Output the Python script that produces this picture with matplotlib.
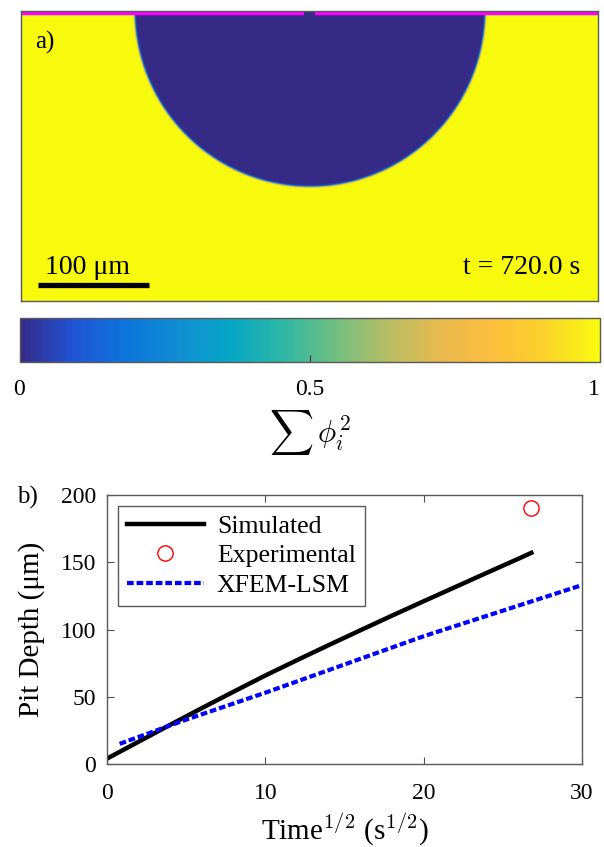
import numpy as np
import matplotlib
matplotlib.use("Agg")
import matplotlib.pyplot as plt
from matplotlib.colors import LinearSegmentedColormap

plt.rcParams['font.family'] = ['Liberation Serif', 'DejaVu Serif']
plt.rcParams['mathtext.fontset'] = 'cm'

# --- donnees panneau a) (domaine en um) ---
domain_w = 520.0
domain_h = 260.0
pit_center_x = 260.0
pit_radius = 158.0
film_segments = [(0.0, 255.0), (265.0, 520.0)]   # film passif en haut, ouverture au centre
scale_bar = (16.0, 116.0)                         # 100 um
time_label = "t = 720.0 s"

# colormap parula (quelques points)
parula_pts = [
    (0.2081, 0.1663, 0.5292), (0.1253, 0.3242, 0.8303), (0.0498, 0.4586, 0.8641),
    (0.0641, 0.5570, 0.8240), (0.0228, 0.6535, 0.7768), (0.1801, 0.7177, 0.6424),
    (0.4420, 0.7481, 0.5033), (0.7184, 0.7411, 0.3905), (0.9139, 0.7258, 0.3063),
    (0.9938, 0.7455, 0.2403), (0.9789, 0.8271, 0.1633), (0.9763, 0.9831, 0.0538),
]
parula = LinearSegmentedColormap.from_list("parula", parula_pts)

# --- donnees panneau b) ---
sim_t = [0, 2, 4, 6, 8, 10, 12, 14, 16, 18, 20, 22, 24, 26, 26.8]
sim_depth = [4, 16.6, 29.2, 41.6, 53.8, 65.8, 77.2, 88.4, 99.4, 110.3, 121, 131.6, 142.2, 152.7, 157]
exp_t = [26.8]
exp_depth = [190]
xfem_t = [0.8, 5, 10, 15, 20, 25, 30]
xfem_depth = [15, 33, 53, 74, 95, 114, 133]

W, H = 604, 847
fig = plt.figure(figsize=(W / 100, H / 100), dpi=100)

def px_axes(l, t, r, b):
    return fig.add_axes([l / W, 1 - b / H, (r - l) / W, (b - t) / H])

# ---------- a) ----------
ax1 = px_axes(20.5, 11, 598, 301.5)
xs = np.linspace(0, domain_w, 1040)
ys = np.linspace(0, domain_h, 520)
X, Y = np.meshgrid(xs, ys)
dist = np.sqrt((X - pit_center_x) ** 2 + (Y - domain_h) ** 2) - pit_radius
field = 0.5 * (1 + np.tanh(dist / 0.8))
ax1.imshow(field, origin='lower', extent=[0, domain_w, 0, domain_h], cmap=parula,
           vmin=0, vmax=1, aspect='auto', interpolation='bilinear')
top_y = domain_h - 2 * domain_h / 290
for x0, x1 in film_segments:
    ax1.plot([x0, x1], [top_y, top_y], color='#ff00ff', lw=3.2, solid_capstyle='butt')
ax1.plot(scale_bar, [15, 15], color='black', lw=3.8, solid_capstyle='butt')
ax1.text(60, 19, "100 \u03bcm", ha='center', va='bottom', fontsize=20)
ax1.text(domain_w - 16, 19, time_label, ha='right', va='bottom', fontsize=20)
ax1.text(13, domain_h - 28, "a)", ha='left', va='center', fontsize=18)
ax1.set_xlim(0, domain_w)
ax1.set_ylim(0, domain_h)
ax1.set_xticks([])
ax1.set_yticks([])
for s in ax1.spines.values():
    s.set_color('0.35')
    s.set_linewidth(1.0)

# barre de couleur
cax = px_axes(19.5, 318, 600, 362)
sm = matplotlib.cm.ScalarMappable(cmap=parula, norm=plt.Normalize(0, 1))
cb = fig.colorbar(sm, cax=cax, orientation='horizontal')
cb.set_ticks([0, 0.5, 1])
cb.set_ticklabels(["0", "0.5", "1"])
cax.tick_params(direction='in', length=5, width=0.8, labelsize=17, pad=12, color='0.2')
cax.get_xticklabels()[-1].set_horizontalalignment('right')
cb.outline.set_edgecolor('0.35')
cb.outline.set_linewidth(1.0)
fig.text(310 / W, 1 - 432 / H, r"$\sum\,\phi_i^2$", ha='center', va='center', fontsize=22)

# ---------- b) ----------
ax2 = px_axes(107, 495, 582, 764)
ax2.plot(sim_t, sim_depth, color='black', lw=3.2, label='Simulated')
ax2.plot(exp_t, exp_depth, linestyle='none', marker='o', markersize=11, mfc='none',
         mec='red', mew=1.0, label='Experimental')
ax2.plot(xfem_t, xfem_depth, color='blue', lw=3, linestyle=(0, (1.6, 0.7)), label='XFEM-LSM')
ax2.set_xlim(0, 30)
ax2.set_ylim(0, 200)
ax2.set_xticks([0, 10, 20, 30])
ax2.set_yticks([0, 50, 100, 150, 200])
ax2.tick_params(direction='in', length=5, width=0.8, labelsize=17, top=True, right=True,
                color='0.3')
ax2.tick_params(axis='x', pad=14)
ax2.tick_params(axis='y', pad=8)
for s in ax2.spines.values():
    s.set_color('0.35')
    s.set_linewidth(1.0)
ax2.set_xlabel(r"Time$^{1/2}$ (s$^{1/2}$)", fontsize=21)
ax2.xaxis.set_label_coords(0.5, -0.17)
ax2.set_ylabel("Pit Depth (\u03bcm)", fontsize=21)
ax2.yaxis.set_label_coords(-0.13, 0.5)
leg = ax2.legend(loc='upper left', bbox_to_anchor=(0.023, 0.959), borderaxespad=0,
                 fontsize=18.5, handlelength=3.0, fancybox=False, framealpha=1,
                 edgecolor='0.35', borderpad=0.35, labelspacing=0.25, handletextpad=0.5)
leg.get_frame().set_linewidth(1.0)
fig.text(17 / W, 1 - 497 / H, "b)", ha='left', va='center', fontsize=18)

plt.savefig("out.png", dpi=100)
